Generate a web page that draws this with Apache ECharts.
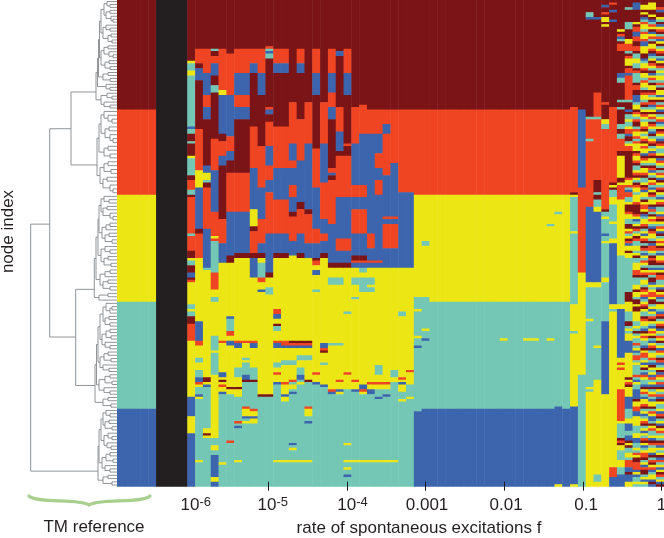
<!DOCTYPE html>
<html><head><meta charset="utf-8">
<style>html,body{margin:0;padding:0;background:#fff}#c{width:664px;height:538px}</style>
<script src="https://cdn.jsdelivr.net/npm/echarts@6/dist/echarts.min.js"></script>
</head><body><div id="c"></div>
<script>
// state letters and colours
const stateLetters = ['D','R','Y','T','B','K'];
const stateColors = ['#7b1416','#f04523','#ece614','#74c7b4','#3c65ae','#231f20'];
const rowCount = 200;
// run-length columns: letter + last row (exclusive)
const referenceColumn = "D45 R80 Y124 T168 B200";
const blackColumn = "K200";
const sweepColumns = [
"D25 Y26 T29 Y31 T52 B53 T55 D58 T59 D64 Y65 T72 D74 R78 T80 D81 R96 T97 R103 D106 Y107 T109 D112 B114 D115 R116 Y125 T127 Y128 T130 D133 R140 Y163 B171 Y178 B200",
"D20 R26 D28 B33 D53 R70 Y77 B94 D96 R106 Y132 B140 R142 Y147 T149 Y152 T155 B157 R158 Y159 T162 B163 Y164 T189 Y190 T200",
"D20 R30 B39 R44 B49 D68 B71 Y74 T75 D77 R94 B110 T111 Y155 D157 Y158 B159 T176 Y178 D179 Y180 T200",
"D20 T21 D23 R26 B31 D35 T38 D57 R70 B87 R97 Y98 R99 T112 R119 Y122 T124 Y138 T144 Y145 T154 Y180 T183 Y185 T187 B196 Y198 B200",
"D20 R37 Y39 B55 D58 R64 B68 D90 R100 B108 Y140 R141 Y153 B155 Y156 D157 Y158 R159 Y161 B162 T190 Y191 T200",
"D22 R39 B56 R62 B66 D71 R87 B105 D108 Y130 B131 T136 R138 Y140 B142 Y159 D160 Y162 T181 R182 T200",
"D20 R30 B39 R44 B49 D71 R87 B104 D106 Y140 R141 B143 Y151 T155 Y159 D160 Y163 T173 R174 T175 B176 T189 Y190 T200",
"D20 R30 B39 R44 B49 D71 R87 B104 D106 Y140 R141 Y147 T148 Y149 T154 B156 D157 T167 R168 Y171 B172 T173 Y174 T200",
"D20 R26 B30 D52 R69 B86 Y93 D95 R104 D106 B114 Y140 R141 B143 Y151 T156 D157 T168 R169 Y171 B172 Y174 T200",
"D20 R30 B39 D60 R77 B90 R100 B104 D106 Y108 T114 R116 Y119 B120 Y162 D163 T200",
"D19 R20 T21 B22 T24 D44 R45 B47 D50 R60 B68 R74 B79 R96 B112 D114 Y118 T121 Y162 D163 T200",
"D20 R26 B30 D52 R69 B82 R96 B104 D106 Y127 R129 B131 Y133 D134 T136 Y140 R141 B143 Y149 T151 Y153 R154 Y157 B158 T189 Y190 T200",
"D20 R26 B30 D52 R69 B82 R96 B104 D106 Y140 R142 B143 Y148 T150 Y157 R158 Y162 B163 Y165 T189 Y190 T200",
"D42 R59 B66 R69 B76 R81 B87 D89 R99 B105 Y140 D141 R142 B143 Y148 T150 Y156 R157 T158 Y160 T161 B162 T182 B183 T184 Y185 T189 Y190 T200",
"D20 R26 B30 D49 R66 B83 D86 R96 B104 D106 Y140 D141 R142 B143 Y146 T148 Y151 T154 B156 T157 Y158 T189 Y190 T200",
"D42 R59 B86 D88 R100 B106 Y140 D141 R142 B143 Y146 T148 Y156 D157 T167 R168 Y171 T173 B174 T189 Y190 T200",
"D20 R30 B39 D61 R77 B94 R100 B106 D107 R109 Y111 B113 Y119 T120 Y153 R154 Y157 B158 T200",
"D42 R59 B75 R90 B96 R99 B104 D106 Y141 B143 R144 D145 Y149 T150 Y158 B159 T200",
"D20 R30 B38 R44 B49 D69 R71 B72 D74 R92 B108 D110 Y114 T117 Y141 T142 Y160 R161 B162 T200",
"D21 B23 D44 R54 B62 D64 R81 B98 R103 B108 D110 Y114 T117 Y141 T142 Y156 R157 Y160 B161 Y162 T200",
"D20 R30 B39 D59 R60 D64 R81 B98 R103 B108 D110 Y128 T129 Y153 R154 Y160 T182 Y183 T189 Y190 T192 Y193 T195 B196 T200",
"D44 R59 B76 R81 B86 R96 B105 D107 R108 B110 Y114 T117 Y122 T123 Y156 R157 Y160 B161 T189 Y190 T200",
"D43 R55 B76 R81 B86 R96 B105 D107 R108 B110 T112 Y114 T120 Y158 B160 R161 Y162 T189 Y190 T200",
"D45 R55 B96 R102 B107 R108 B110 Y114 T117 Y118 T120 Y157 R158 Y160 B162 T189 Y190 T200",
"D45 R55 B63 R69 B74 R80 B107 R108 B110 Y150 T154 Y157 R158 Y160 T163 B164 T189 Y190 T200",
"D45 R51 B55 R72 B89 R90 B92 R102 B110 Y157 R158 Y160 T162 B163 T189 Y190 T200",
"D45 R67 B89 R90 B92 R102 B110 Y152 T155 Y157 T189 Y190 T200",
"D45 R79 B110 Y128 T130 Y155 R156 Y157 B158 Y161 T164 Y165 T200",
"D45 R79 B110 Y152 R153 Y158 T163 Y164 T200",
"D45 R80 Y122 T127 Y128 T138 Y139 T142 B143 T169 B200",
"D45 R80 Y99 T101 Y122 T135 Y136 T139 B140 T168 B200",
"D45 R80 Y124 T168 B200","D45 R80 Y124 T168 B200","D45 R80 Y124 T168 B200",
"D45 R80 Y124 T168 B200","D45 R80 Y124 T168 B200","D45 R80 Y124 T168 B200",
"D45 R80 Y124 T168 B200","D45 R80 Y124 T168 B200","D45 R80 Y124 T168 B200",
"D45 R80 Y124 T139 Y140 T168 B200",
"D45 R80 Y124 T168 B200","D45 R80 Y124 T168 B200",
"D45 R80 Y124 T139 Y140 T168 B200","D45 R80 Y124 T139 Y140 T168 B200",
"D45 R80 Y124 T168 B200",
"D45 R80 Y92 T93 Y124 T139 Y140 T168 B200",
"D45 R80 Y87 T88 Y124 T167 B199 Y200",
"D45 R80 Y124 T168 B200",
"D44 R79 D80 Y81 T95 Y96 T125 Y136 T137 Y167 B199 Y200",
"D45 B77 R112 Y154 T200",
"D5 T7 B8 D48 T49 R57 T58 R85 B116 Y118 T131 Y132 T159 Y160 T161 Y200",
"D7 B8 D38 R48 T49 R74 D79 T80 D82 T85 Y87 B116 Y118 T142 Y143 T156 Y195 T198 Y200",
"D2 B3 D5 R6 D7 Y9 D10 Y11 D42 R43 D49 Y51 T53 R86 D87 T89 Y90 T96 B97 T99 Y100 T114 Y116 T132 B162 Y200",
"D1 R2 D4 B5 D8 B9 D44 R75 D76 Y77 D78 T81 Y84 T91 Y92 T98 Y100 B125 Y127 T128 Y192 R196 B200",
"D12 Y13 D14 R15 B16 T17 D18 R21 D30 B32 T34 D41 T42 D44 T45 D51 T53 D55 T57 R62 D64 Y73 D75 Y76 R82 Y105 T125 Y127 B147 Y149 R150 Y151 R152 Y160 R173 Y174 T180 D181 R182 D183 Y185 T189 Y192 T195 B200"
];
// last five sweep columns, one letter per node (groups of ten)
const noisyColumn56 = "DDDTDDDDDT TTDDDDYYRR RTDRYYYDRR BRRRRRRRRR RTDDDBDTTY TTYRRBDDTY RRDDDDDDDD DDDRYYRTBR RTTYDDDRYY TTDDYRTYDR BYYDYYTTTT TTTTTTTTTT DDDDYYYYTT TTDDTYTYYY BBBBBYYYYY YYYYYDYRDY YYYBBBBBTT TTYYBBBTTB BDYDTTYYTR RRBBDBBBYY";
const noisyColumn57 = "DBBBDDDDDY DRRBBRRDDR RDTTYYTTDR TTTTDRRDDB BBTYYDRYTR DDTRYYRTRY YYDRYYRDTT YRDYTDRYYT YYYRDDDDRY BTYDRTYDRT TYYTYDTTYY YRRDTTTYYD YYTDDYDDYY YYTTYTDTYT TRTYBTRRTY TTTTRTBYTT BBBBDYYRRB BYYYYTTTYY BBTTYTRYDD RRRBYBTTYT";
const noisyColumn58 = "DDYYDYDBTR YYTRYYRBBY YYDDBTYYRD YYTRYYTDRY YTRDTYDRYT YYRDYTYRDY RYYBDRYTDY YRDTTYDRBY YTDYRRYDBT YYRDTYBYRD TDRTBYTRYT DYRDTYYTDR YRBTYRDYTT DRYYTBDYRY TTBDYRRTYB YDTBRYTTBD YRTBYYRDTY BTYRDTYBYT RDYBTYRRDT YBRDDTYBYT";
const noisyColumn59 = "DYYYDDYDBT RYDBYRTDYY RDBTYDRYTD BYRTDYYDRT YDRBTYDYRT DRYTBDTYRD TYBRDYYTDR BYTDYRTBYD RTYYDBRTDY RYTBDRYYTD BRRYTDRDDT BYRTDDBYTY RRYDDTYBYT RDYTBYRYDT BYRDTYYRTB DYTYBRTYBD TYRTBYYDTR YBBTDYRTTY BDRTYYBDTR DYRBTYYBDB";
const noisyColumn60 = "DDDRBDDYTD BYRDTRBYDT YRDTBYDRTY TYYTRTDYYB YDTRYBDTYR BTYDRYTBDR YTTYDBRYTD TRYBDYTRDY TBYRDTTYBR DYTRYBDTYR YDRTBYYRDT BYDRRTTYBD YRBTDYYTBR DTYRDBYTRY DTYBRYTDRB TYDBRYTRBD YTRBDYTTYB RDTYBDYRTY TDRBYTYDBR TYBYDRTYBD";
// axis ticks and labels (log10 f)
const tickValues = [-5,-4,-3,-2,-1,0];
const labelValues = [-5.922,-4.944,-3.929,-2.981,-1.976,-0.958,0];
const labelTexts = ['{b|10}{s|-6}','{b|10}{s|-5}','{b|10}{s|-4}','{b|0.001}','{b|0.01}','{b|0.1}','{b|1}'];
// dendrogram: [distance, child, child]; 0 = leaf
const dendroDarkRed = [96,[97.5,[98.5,[99.5,[101,[104,[107,0,[110,0,0]],[106,[110,0,0],[111,0,[113,0,0]]]],[103,[106,0,[110,0,0]],[108,[111,0,0],[112,0,0]]]],[101,[104,[108,0,0],[109,0,[113,0,0]]],[105,[109,0,0],[110,0,0]]]],[103,[108,0,0],[110,0,0]]],[106,0,[110,0,0]]],[101,[107,0,[112,0,0]],[104,0,[110,0,0]]]];
const dendroRed = [97,[99,[101,[104,0,[108,0,[112,0,0]]],[105,[109,0,0],[110,0,[113,0,0]]]],[104,[108,0,0],[110,0,0]]],[100,[104,[108,0,0],[111,0,0]],[103,[107,0,0],[110,0,[113,0,0]]]]];
const dendroYellow = [94.3,[96,[98,[99,[101,[104,0,[109,0,0]],[103,[107,0,0],[110,0,[113,0,0]]]],[102,[106,[110,0,0],0],[105,[109,0,0],[112,0,0]]]],[101,[105,0,[110,0,0]],[104,[108,0,0],[111,0,0]]]],[100,[105,[110,0,0],0],[103,[108,0,0],[110,0,0]]]],[99,[108,0,0],0]];
const dendroTeal = [95,[96.5,[98,[100,[103,[106,0,[110,[112,0,0],0]],[105,[109,0,0],[110,0,0]]],[102,[106,[110,0,0],[111,0,0]],[105,0,[110,0,0]]]],[100,[104,[108,0,0],[111,0,0]],[103,0,[109,0,0]]]],[99,[105,[110,0,0],[112,0,0]],[104,0,[110,0,0]]]],[103,[108,0,0],[111,0,0]]];
const dendroBlue = [98,[99,[101,[103,[106,0,[110,0,0]],[105,[109,0,0],[112,0,0]]],[104,[108,0,[112,0,0]],[107,0,[111,0,0]]]],[102,[106,[110,0,0],[113,0,0]],[105,0,[110,0,0]]]],[103,[108,0,0],[112,0,0]]];
const dendroRanges = [[0,45],[45,80],[80,124],[124,168],[168,200]];
// upper joins: [distance, y1, child distance 1, y2, child distance 2]
const dendroBackbone = [[71,37.8,96,67.8,97],[75.7,118.9,94.3,158.4,95],[49.7,52.9,71,138.5,75.7],[30.7,92.1,49.7,193.6,98]];

function expandRuns(s){
  const out=[]; let p=0;
  s.trim().split(/\s+/).forEach(t=>{const st=stateLetters.indexOf(t[0]),e=+t.slice(1);while(p<e){out.push(st);p++;}});
  return out;
}
function expandLetters(s){return s.replace(/\s/g,'').split('').map(c=>stateLetters.indexOf(c));}
const columns=[];
for(let i=0;i<5;i++)columns.push(expandRuns(referenceColumn));
for(let i=0;i<4;i++)columns.push(expandRuns(blackColumn));
sweepColumns.forEach(s=>columns.push(expandRuns(s)));
[noisyColumn56,noisyColumn57,noisyColumn58,noisyColumn59,noisyColumn60].forEach(s=>columns.push(expandLetters(s)));
// merge each column into runs: [column, first node, last node, state]
const cells=[];
columns.forEach((col,x)=>{let s=0;for(let y=1;y<=rowCount;y++){if(y===rowCount||col[y]!==col[s]){cells.push([x,s,y-1,col[s]]);s=y;}}});

const segments=[];
function countLeaves(n){return n===0?1:countLeaves(n[1])+countLeaves(n[2]);}
function layoutTree(tree,y0,y1){
  const total=countLeaves(tree),h=(y1-y0)/total;let i=0;
  (function walk(n){
    if(n===0){const y=y0+(i+.5)*h;i++;return {x:117,y};}
    const a=walk(n[1]),b=walk(n[2]),x=n[0];
    segments.push([[a.x,a.y],[x,a.y],[x,b.y],[b.x,b.y]]);
    return {x,y:(a.y+b.y)/2};
  })(tree);
}
[dendroDarkRed,dendroRed,dendroYellow,dendroTeal,dendroBlue].forEach((t,i)=>layoutTree(t,dendroRanges[i][0],dendroRanges[i][1]));
dendroBackbone.forEach(b=>segments.push([[b[2],b[1]],[b[0],b[1]],[b[0],b[3]],[b[4],b[3]]]));

const font='"Liberation Sans",Arial,sans-serif';
const chart=echarts.init(document.getElementById('c'),null,{renderer:'canvas'});
const plotH=486.7;
chart.setOption({
  animation:false,
  backgroundColor:'#ffffff',
  grid:[
    {left:117,top:0,width:546.8,height:plotH,containLabel:false,outerBoundsMode:'none'},
    {left:0,top:0,width:117,height:plotH,containLabel:false,outerBoundsMode:'none'}
  ],
  xAxis:[
    {type:'category',gridIndex:0,data:columns.map((c,i)=>i),show:false},
    {type:'value',gridIndex:0,position:'bottom',min:-6.925,max:0.0305,offset:-5,z:10,
      axisLine:{show:false},splitLine:{show:false},
      axisTick:{show:true,customValues:tickValues,length:9,lineStyle:{color:'#1a1a1a',width:1}},
      axisLabel:{show:true,customValues:labelValues,margin:14,hideOverlap:false,showMinLabel:true,showMaxLabel:true,
        fontFamily:font,fontSize:17,color:'#231f20',
        formatter:v=>{const i=labelValues.indexOf(v);return i<0?'':labelTexts[i];},
        rich:{b:{fontFamily:font,fontSize:17,color:'#231f20',lineHeight:20},
              s:{fontFamily:font,fontSize:13,color:'#231f20',verticalAlign:'top',lineHeight:13,padding:[0,0,7,0]}}}},
    {type:'value',gridIndex:1,min:0,max:117,show:false}
  ],
  yAxis:[
    {type:'category',gridIndex:0,inverse:true,data:Array.from({length:rowCount},(_, i)=>i),show:false},
    {type:'value',gridIndex:1,inverse:true,min:0,max:rowCount,show:false}
  ],
  series:[
    {type:'custom',xAxisIndex:0,yAxisIndex:0,silent:true,clip:true,progressive:0,
      data:cells,
      encode:{x:0,y:[1,2]},
      renderItem:(params,api)=>{
        const x=api.value(0),a=api.value(1),b=api.value(2),st=api.value(3);
        const size=api.size([1,1]);
        const p0=api.coord([x,a]),p1=api.coord([x,b]);
        return {type:'rect',
          shape:{x:p0[0]-size[0]/2,y:p0[1]-size[1]/2,width:size[0]+0.5,height:p1[1]-p0[1]+size[1]+0.5},
          style:{fill:stateColors[st],stroke:null}};
      }},
    {type:'custom',xAxisIndex:2,yAxisIndex:1,silent:true,clip:false,
      data:segments.map((s,i)=>[i]),
      encode:{x:[],y:[]},
      renderItem:(params,api)=>{
        const s=segments[api.value(0)];
        return {type:'polyline',shape:{points:s.map(p=>api.coord(p))},
          style:{stroke:'#85898c',lineWidth:0.9,fill:null}};
      }}
  ],
  graphic:[
    {type:'text',x:8.5,y:231.5,rotation:Math.PI/2,style:{text:'node index',font:'17px '+font,fill:'#231f20',textAlign:'center',textVerticalAlign:'middle'}},
    {type:'text',x:94,y:527,style:{text:'TM reference',font:'17px '+font,fill:'#231f20',textAlign:'center',textVerticalAlign:'middle'}},
    {type:'text',x:419,y:528.5,style:{text:'rate of spontaneous excitations f',font:'17px '+font,fill:'#231f20',textAlign:'center',textVerticalAlign:'middle'}},
    {type:'bezierCurve',shape:{x1:29,y1:496,cpx1:38,cpy1:504,cpx2:78,cpy2:498,x2:89,y2:505},style:{stroke:'#a9cf8f',lineWidth:3.2,fill:null,lineCap:'round'}},
    {type:'bezierCurve',shape:{x1:150,y1:496,cpx1:141,cpy1:504,cpx2:100,cpy2:498,x2:89,y2:505},style:{stroke:'#a9cf8f',lineWidth:3.2,fill:null,lineCap:'round'}}
  ]
});
</script></body></html>
